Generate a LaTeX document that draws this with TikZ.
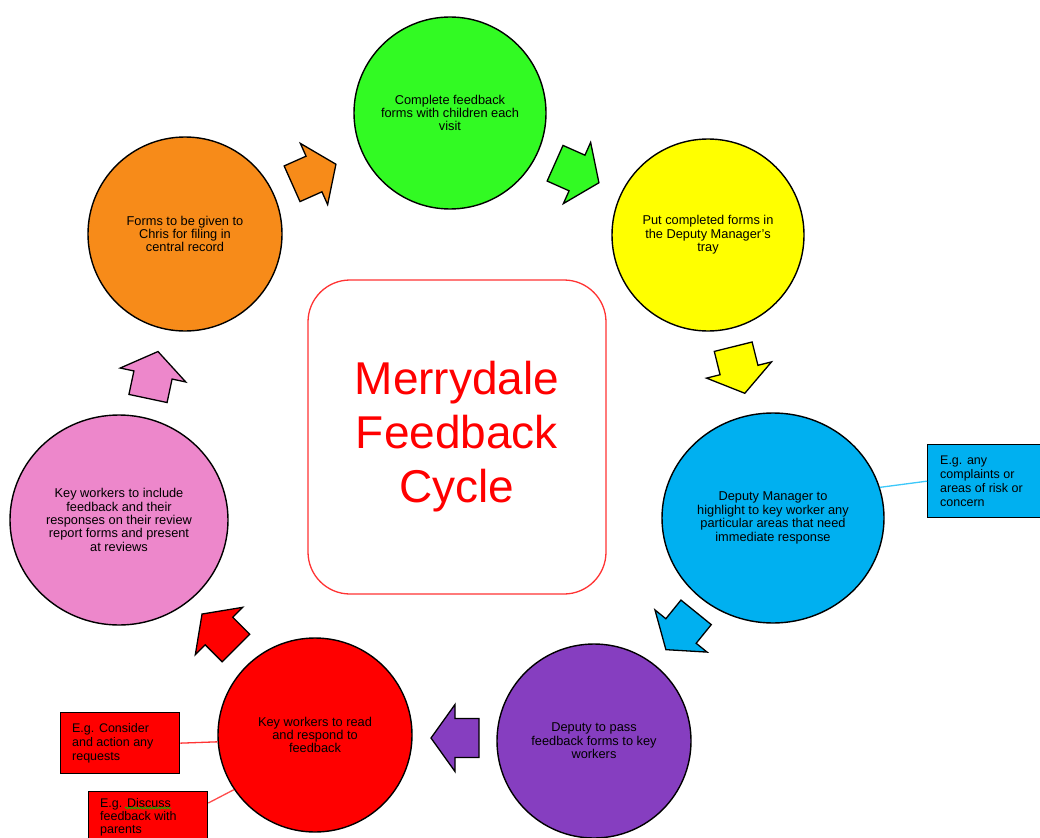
\documentclass[tikz,border=0pt]{standalone}
\usepackage{fontspec}
\setmainfont{Liberation Sans}
\usetikzlibrary{shapes.geometric,calc,decorations.pathmorphing}
\definecolor{cgreen}{RGB}{50,250,35}
\definecolor{cyellow}{RGB}{255,255,0}
\definecolor{corange}{RGB}{247,139,25}
\definecolor{ccyan}{RGB}{0,176,240}
\definecolor{cpurple}{RGB}{134,62,192}
\definecolor{cred}{RGB}{255,0,0}
\definecolor{cpink}{RGB}{237,135,203}
\definecolor{clink}{RGB}{60,200,250}
\tikzset{
  stage/.style={circle, draw=black, line width=1.4pt, inner sep=0pt, align=center,
    font=\fontsize{12.8}{13.4}\selectfont},
  stageoval/.style={ellipse, draw=black, line width=1.4pt, inner sep=0pt, align=center,
    font=\fontsize{12.8}{13.4}\selectfont},
  callout/.style={rectangle, draw=black, line width=1.3pt, anchor=north west, align=left,
    inner sep=0pt, font=\fontsize{12.5}{13.8}\selectfont},
  blockarrow/.pic={\draw[pic actions, line width=1.3pt, line join=miter]
     (-24,-19.5) -- (0,-19.5) -- (0,-33.5) -- (24,0) -- (0,33.5) -- (0,19.5) -- (-24,19.5) -- cycle;},
  link/.style={line width=1.3pt}
}
\begin{document}
\begin{tikzpicture}[x=1pt,y=-1pt]
\useasboundingbox (0,0) rectangle (1040,837);
\clip (0,0) rectangle (1040,837);
\fill[white] (0,0) rectangle (1040,837);

% centre box
\node[draw=cred!80, line width=1.3pt, rounded corners=42, fill=white,
  minimum width=298, minimum height=314, inner sep=0pt, align=center, text=cred,
  font=\fontsize{46}{54}\selectfont] (centre) at (457,437) {Merrydale\\Feedback\\Cycle};

% stages
\node[stage, fill=cgreen, minimum size=192] (s1) at (450,113) {Complete feedback\\forms with children each\\visit};
\node[stage, fill=cyellow, minimum size=192] (s2) at (708,235) {Put completed forms in\\the Deputy Manager's\\tray};
\node[stageoval, fill=ccyan, minimum width=222, minimum height=210] (s3) at (773,518) {Deputy Manager to\\highlight to key worker any\\particular areas that need\\immediate response};
\node[stage, fill=cpurple, minimum size=194] (s4) at (594,741) {Deputy to pass\\feedback forms to key\\workers};
\node[stage, fill=cred, minimum size=194] (s5) at (315,735) {Key workers to read\\and respond to\\feedback};
\node[stageoval, fill=cpink, minimum width=218, minimum height=210] (s6) at (119,520) {Key workers to include\\feedback and their\\responses on their review\\report forms and present\\at reviews};
\node[stage, fill=corange, minimum size=194] (s7) at (185,234) {Forms to be given to\\Chris for filing in\\central record};

% arrows
\pic[fill=corange, rotate=24] (a7) at (314,174) {blockarrow};
\pic[fill=cgreen, rotate=-24] (a1) at (577,173) {blockarrow};
\pic[fill=cyellow, rotate=-76] (a2) at (739,370) {blockarrow};
\pic[fill=ccyan, rotate=-129] (a3) at (681,631) {blockarrow};
\pic[fill=cpurple, rotate=180] (a4) at (455,738) {blockarrow};
\pic[fill=cred, rotate=135] (a5) at (219,631) {blockarrow};
\pic[fill=cpink, rotate=78] (a6) at (153,375) {blockarrow};

% callouts
\node[callout, fill=ccyan, minimum width=125, minimum height=73] (c1) at (927,444)
  {\hspace*{8pt}\parbox[c]{108pt}{E.g. any\\complaints or\\areas of risk or\\concern}};
\node[callout, fill=cred, minimum width=119, minimum height=61] (c2) at (60,712)
  {\hspace*{9pt}\parbox[c]{105pt}{E.g. Consider\\and action any\\requests}};
\node[callout, fill=cred, minimum width=119, minimum height=52,
  font=\fontsize{12.5}{13}\selectfont] (c3) at (88,791)
  {\hspace*{9pt}\parbox[c]{105pt}{E.g. Discuss\\feedback with\\parents}};

\draw[link, draw=clink] (s3.16) -- (c1.west);
\draw[link, draw=cred!80] (c2.east) -- (s5.184);
\coordinate (c3link) at ($(c3.north east)+(0,12)$);
\draw[link, draw=cred!70] (c3link) -- (s5.214);

% spell-check squiggle
\draw[green!75!black, line width=0.8pt, decorate, decoration={snake, amplitude=0.9pt, segment length=3pt}]
  (125,808) -- (171,808);
\end{tikzpicture}
\end{document}
